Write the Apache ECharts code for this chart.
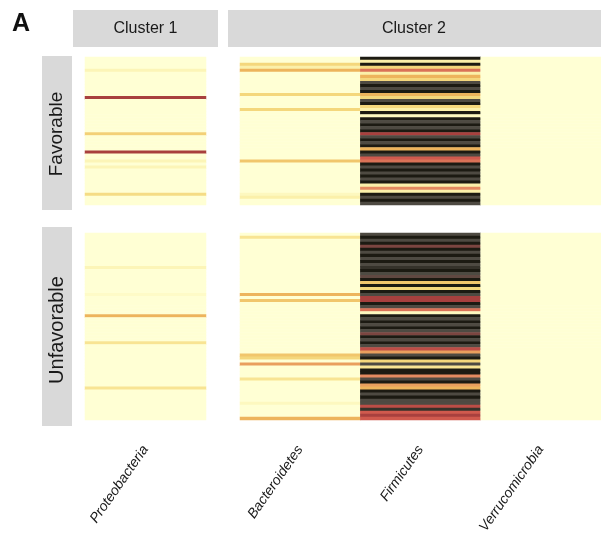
<!DOCTYPE html>
<html>
<head>
<meta charset="utf-8">
<script src="https://cdn.jsdelivr.net/npm/echarts@6/dist/echarts.min.js"></script>
<style>html,body{margin:0;padding:0;background:#fff;}#c{width:601px;height:537px;}</style>
</head>
<body>
<div id="c"></div>
<script>
// ---- data ----
const cluster1Phyla = ['Proteobacteria'];
const cluster2Phyla = ['Bacteroidetes', 'Firmicutes', 'Verrucomicrobia'];
const clusterLabels = ['Cluster 1', 'Cluster 2'];
const groupLabels = ['Favorable', 'Unfavorable'];

// abundance level per sample row (0 = none ... 8 = highest), top to bottom
const proteoFav = [0,0,0,0,0.7,0,0,0,0,0, 0,0,0,6,0,0,0,0,0,0, 0,0,0,0,0,2.2,0,0,0,0, 0,6,0,0,0.7,0,0.7,0,0,0, 0,0,0,0,0,1.8,0,0,0];
const bacteroFav = [0,0,2,1,3,0,0,0,0,0, 0,0,2,0,0,0,0,2,0,0, 0,0,0,0,0,0,0,0,0,0, 0,0,0,0,2.5,0,0,0,0,0, 0,0,0,0,0,0.5,1,0,0];
const firmFav = [8,1,8,2,4.5,1,3,2,7,8, 7,8,3,2,7,8,2,1,8,0.5, 8,7,8,7,8,6,7,8,7,8, 3,8,7,5,4.5,8,7,8,7,8, 7,8,1,4,1,8,7,8,7];
const verruFav = [0,0,0,0,0,0,0,0,0,0, 0,0,0,0,0,0,0,0,0,0, 0,0,0,0,0,0,0,0,0,0, 0,0,0,0,0,0,0,0,0,0, 0,0,0,0,0,0,0,0,0];

const proteoUnfav = [0,0,0,0,0,0,0,0,0,0, 0,0.7,0,0,0,0,0,0,0,0, 0.3,0,0,0,0,0,0,3,0,0, 0,0,0,0,0,0,1.5,0,0,0, 0,0,0,0,0,0,0,0,0,0, 0,1.5,0,0,0,0,0,0,0,0, 0,0];
const bacteroUnfav = [0,1.5,0,0,0,0,0,0,0,0, 0,0,0,0,0,0,0,0,0,0, 3,0,2.5,0,0,0,0,0,0,0, 0,0,0,0,0,0,0,0,0,0, 2.5,2,0,3.5,0,0,0,0,1.5,0, 0,0,0,0,0,0,0.5,0,0,0, 0,3];
const firmUnfav = [7,8,7,8,6.5,8,7,8,7,8, 7,7.5,8,7,6.8,8, 2.5,8,2,8,7,6,6,8,7,4.5,0.5, 8,7,8,7,8,7,6.5,8,7,8,7, 5.5,3.5,7,8,2,7,1.5,8,8,4,7,8, 3.5,3,8,7,8,7,7,5.5,7.5,5,6,5];
const verruUnfav = [0,0,0,0,0,0,0,0,0,0, 0,0,0,0,0,0,0,0,0,0, 0,0,0,0,0,0,0,0,0,0, 0,0,0,0,0,0,0,0,0,0, 0,0,0,0,0,0,0,0,0,0, 0,0,0,0,0,0,0,0,0,0, 0,0];

// ---- build ----
function cells(cols) {
  const out = [];
  cols.forEach((col, xi) => col.forEach((v, yi) => out.push([xi, yi, v])));
  return out;
}
function rowCats(n) { const a = []; for (let i = 0; i < n; i++) a.push(String(i)); return a; }

const FONT = "'Liberation Sans', Arial, sans-serif";
const favTop = 57, favH = 148, unTop = 233, unH = 187;
const c1Left = 85, c1W = 121, c2Left = 240, c2W = 363;

const grids = [
  {left: c1Left, width: c1W, top: favTop, height: favH},
  {left: c2Left, width: c2W, top: favTop, height: favH},
  {left: c1Left, width: c1W, top: unTop, height: unH},
  {left: c2Left, width: c2W, top: unTop, height: unH}
];
const xCats = [cluster1Phyla, cluster2Phyla, cluster1Phyla, cluster2Phyla];
const nRows = [proteoFav.length, proteoFav.length, proteoUnfav.length, proteoUnfav.length];
const seriesCols = [[proteoFav], [bacteroFav, firmFav, verruFav], [proteoUnfav], [bacteroUnfav, firmUnfav, verruUnfav]];

const xAxes = xCats.map((cats, i) => ({
  type: 'category', gridIndex: i, data: cats,
  axisLine: {show: false}, axisTick: {show: false}, splitLine: {show: false},
  axisLabel: {
    show: i >= 2, rotate: 55, margin: 27, fontStyle: 'italic',
    fontFamily: FONT, fontSize: 14, color: '#1a1a1a', interval: 0
  }
}));
const yAxes = nRows.map((n, i) => ({
  type: 'category', gridIndex: i, data: rowCats(n), inverse: true, show: false
}));
const series = seriesCols.map((cols, i) => ({
  type: 'heatmap', xAxisIndex: i, yAxisIndex: i, data: cells(cols),
  itemStyle: {borderWidth: 0}, emphasis: {disabled: true}, progressive: 0
}));

const stripFill = '#d9d9d9';
const ctr = {align: 'center', verticalAlign: 'middle', textAlign: 'center', textVerticalAlign: 'middle', fill: '#1a1a1a'};
const graphic = [
  {type: 'text', left: 12, top: 12, style: {text: 'A', font: 'bold 25px ' + FONT, fill: '#111'}},
  {type: 'rect', shape: {x: 73, y: 10, width: 145, height: 37}, style: {fill: stripFill}},
  {type: 'rect', shape: {x: 228, y: 10, width: 375, height: 37}, style: {fill: stripFill}},
  {type: 'rect', shape: {x: 42, y: 56, width: 30, height: 154}, style: {fill: stripFill}},
  {type: 'rect', shape: {x: 42, y: 227, width: 30, height: 199}, style: {fill: stripFill}},
  {type: 'text', x: 145.5, y: 29, style: Object.assign({text: clusterLabels[0], font: '16px ' + FONT}, ctr)},
  {type: 'text', x: 414, y: 29, style: Object.assign({text: clusterLabels[1], font: '16px ' + FONT}, ctr)},
  {type: 'text', x: 57, y: 134, rotation: Math.PI / 2, style: Object.assign({text: groupLabels[0], font: '19px ' + FONT}, ctr)},
  {type: 'text', x: 57, y: 330, rotation: Math.PI / 2, style: Object.assign({text: groupLabels[1], font: '20px ' + FONT}, ctr)}
];

const chart = echarts.init(document.getElementById('c'), null, {renderer: 'canvas'});
chart.setOption({
  animation: false,
  backgroundColor: '#ffffff',
  grid: grids,
  xAxis: xAxes,
  yAxis: yAxes,
  visualMap: {
    type: 'continuous', show: false, min: 0, max: 8, seriesIndex: [0, 1, 2, 3],
    inRange: {color: ['#FFFFD4', '#FBF0AA', '#F4D77C', '#EDB45C', '#E48A60', '#D05A4E', '#A8403E', '#4E4A42', '#1C1A12']}
  },
  series: series,
  graphic: graphic
});
</script>
</body>
</html>
